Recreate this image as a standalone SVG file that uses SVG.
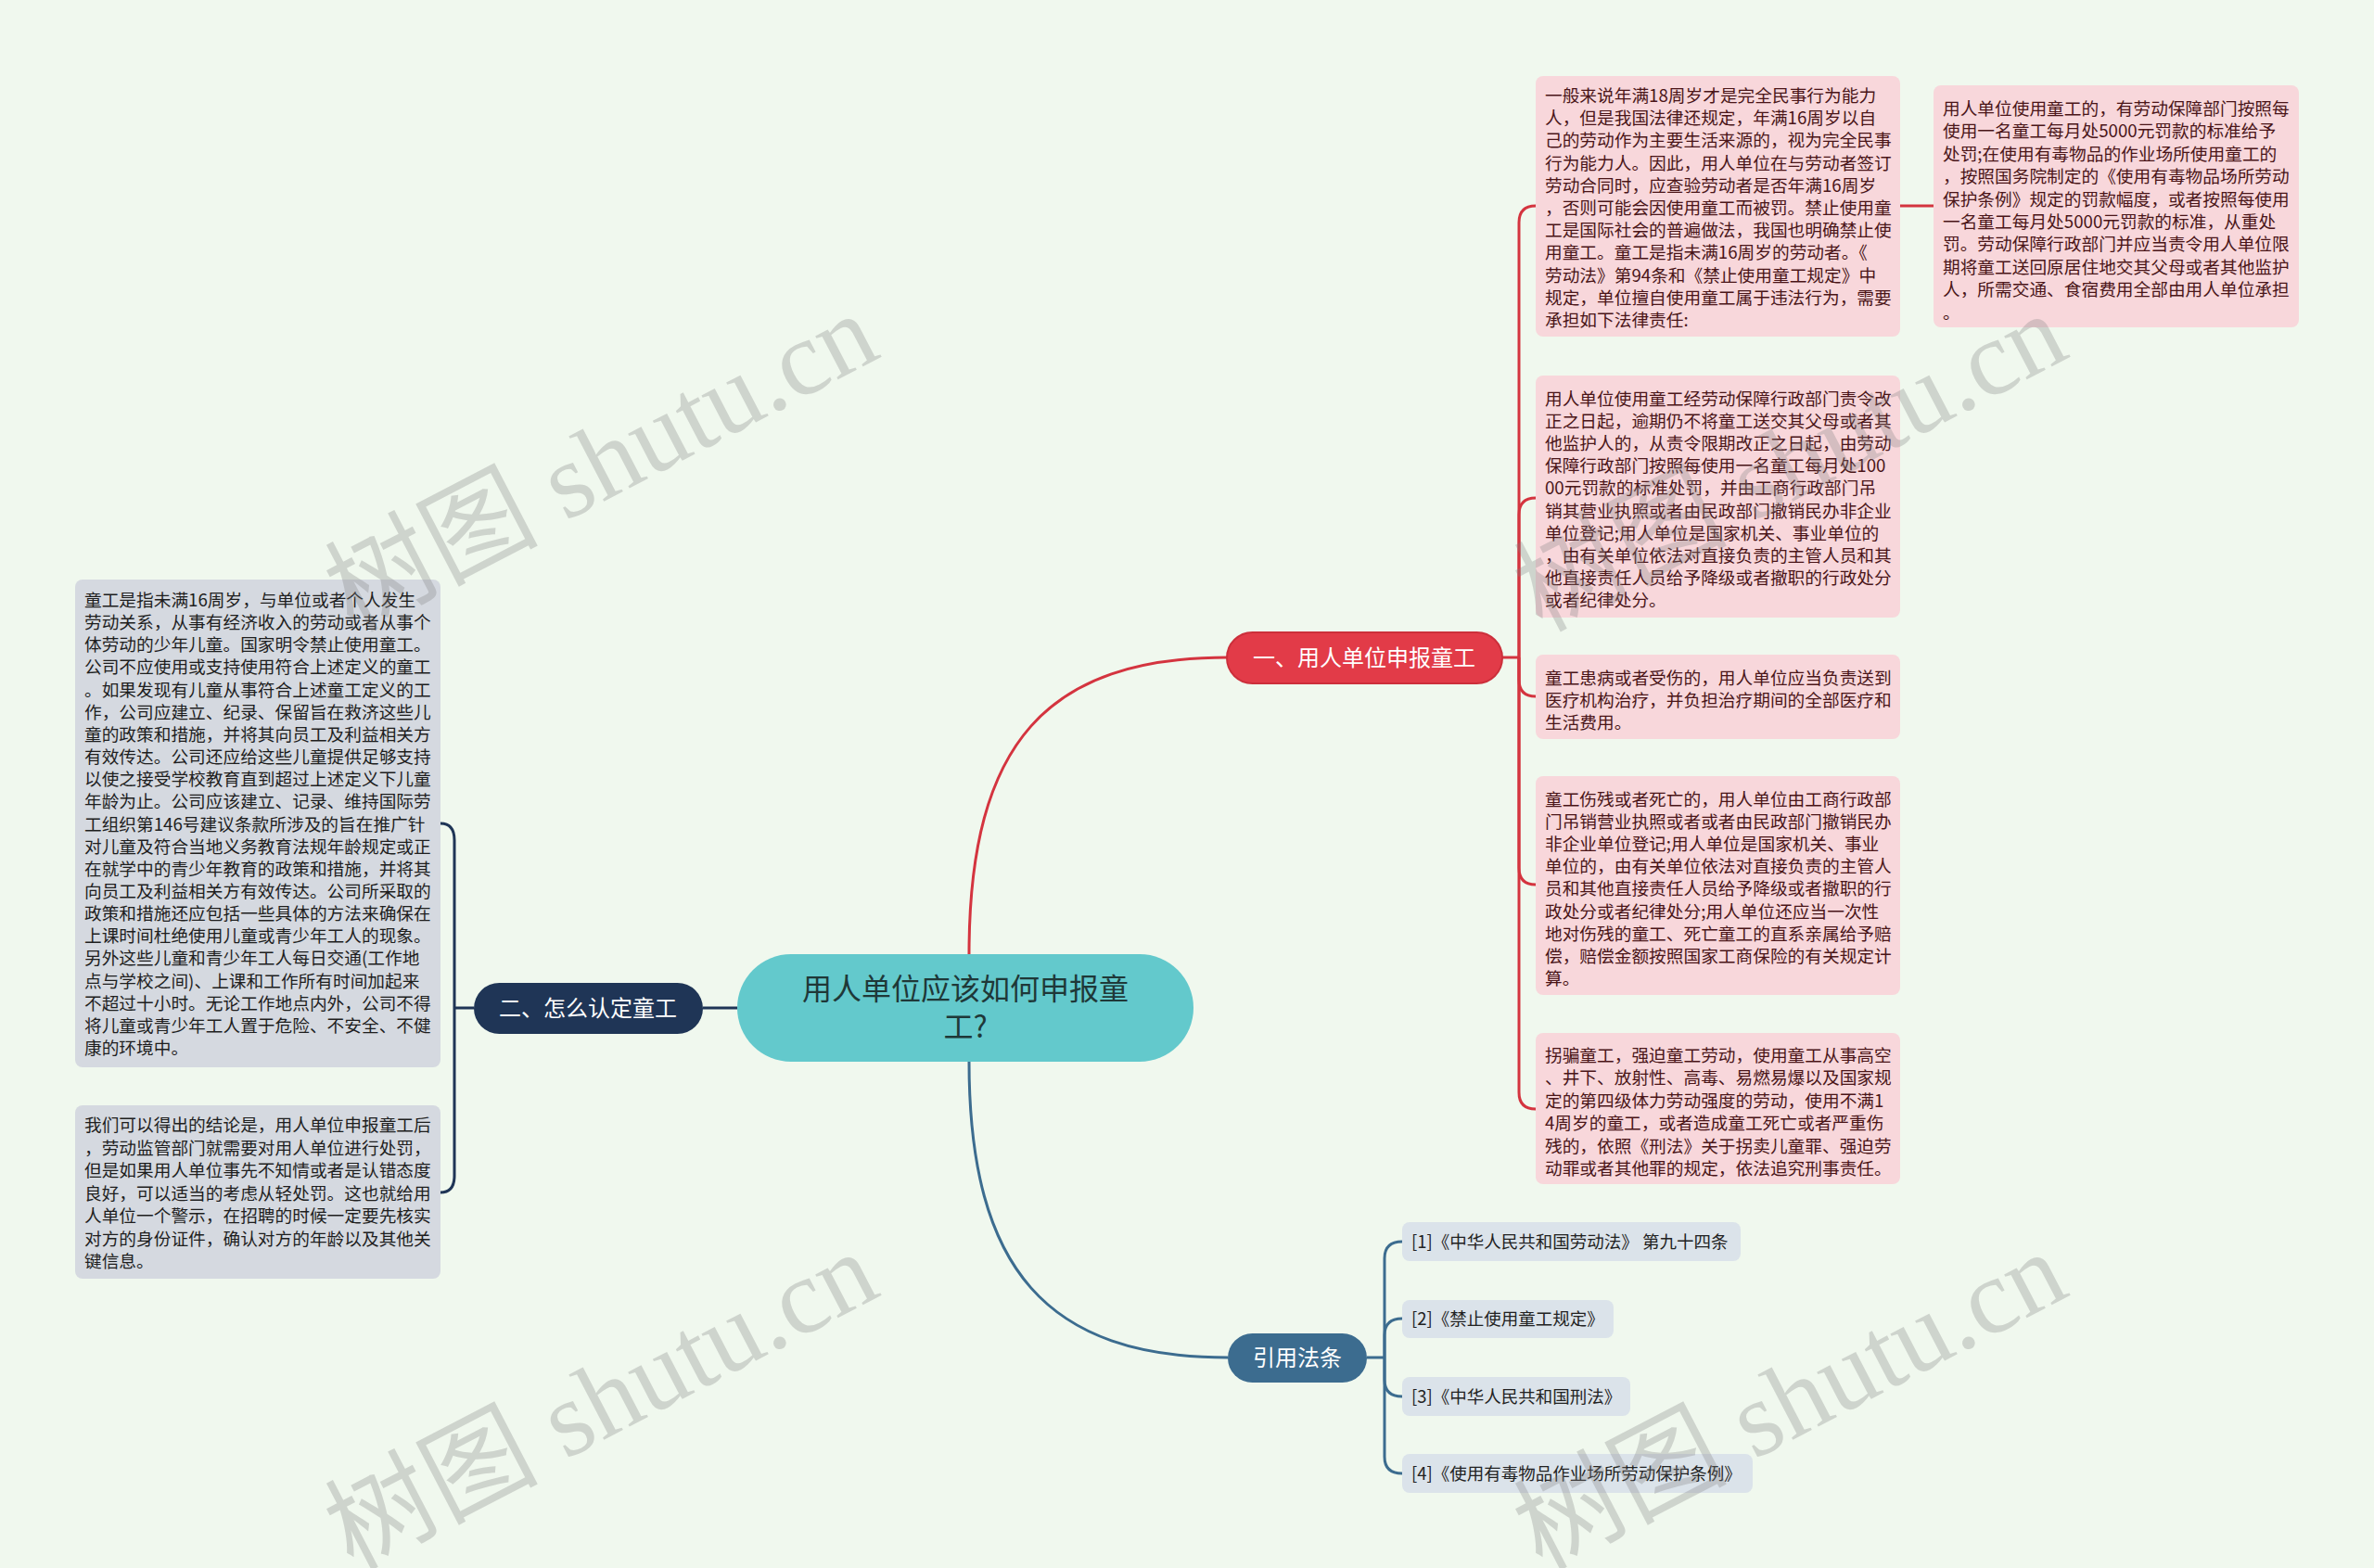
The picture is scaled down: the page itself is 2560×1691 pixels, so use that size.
<svg xmlns="http://www.w3.org/2000/svg" width="2560" height="1691" viewBox="0 0 2560 1691">
<style>
.t{font-family:"Noto Sans CJK SC","Noto Sans",sans-serif;}
.pk{fill:#f8d7db;}
.pt{font-size:18.7px;fill:#4a1518;}
.gy{fill:#d5d9e0;}
.gt{font-size:18.7px;fill:#1e1e1e;}
.rf{fill:#dbe3ea;}
.rt{font-size:18.5px;fill:#222;}
.bt{font-size:24px;fill:#fff;text-anchor:middle;}
.cr{fill:none;stroke:#d4343f;stroke-width:3;}
.cn{fill:none;stroke:#1f3556;stroke-width:3;}
.cb{fill:none;stroke:#3c6c8f;stroke-width:3;}
.wm{font-family:"Liberation Serif","Noto Sans CJK SC",serif;font-size:115px;fill:#808080;fill-opacity:0.3;}
</style>
<rect width="2560" height="1691" fill="#f0f8ee"/>

<g id="connectors">
<path class="cr" d="M1045,1029 C1045,800 1130,709 1324,709"/>
<path class="cb" d="M1045,1145 C1045,1370 1130,1464 1324,1464"/>
<path class="cn" d="M795,1087 H758"/>
<path class="cr" d="M1620,709 H1638"/>
<path class="cr" d="M1638,709 V240 Q1638,222 1656,222"/>
<path class="cr" d="M1638,709 V555 Q1638,537 1656,537"/>
<path class="cr" d="M1638,709 V733 Q1638,751 1656,751"/>
<path class="cr" d="M1638,709 V936 Q1638,954 1656,954"/>
<path class="cr" d="M1638,709 V1178 Q1638,1196 1656,1196"/>
<path class="cr" d="M2049,222 H2085"/>
<path class="cn" d="M511,1087 H490"/>
<path class="cn" d="M490,1087 V906 Q490,888 475,888"/>
<path class="cn" d="M490,1087 V1268 Q490,1286 475,1286"/>
<path class="cb" d="M1474,1464 H1493"/>
<path class="cb" d="M1493,1464 V1357 Q1493,1339 1512,1339"/>
<path class="cb" d="M1493,1464 V1440 Q1493,1422 1512,1422"/>
<path class="cb" d="M1493,1464 V1488 Q1493,1506 1512,1506"/>
<path class="cb" d="M1493,1464 V1571 Q1493,1589 1512,1589"/>
</g>

<g id="center">
<rect x="795" y="1029" width="492" height="116" rx="58" fill="#63c9cc"/>
<text class="t" font-size="32" fill="#1f3838" text-anchor="middle"><tspan x="1041" y="1078">用人单位应该如何申报童</tspan><tspan x="1041" y="1119">工?</tspan></text>
</g>

<g id="branch1">
<rect x="1323" y="682" width="297" height="55" rx="27.5" fill="#e23b48" stroke="#cc2f3b" stroke-width="2"/>
<text class="t bt" x="1471" y="718">一、用人单位申报童工</text>
</g>

<g id="branch2">
<rect x="511" y="1060" width="247" height="55" rx="27.5" fill="#1f3556"/>
<text class="t bt" x="634" y="1096">二、怎么认定童工</text>
</g>

<g id="branch3">
<rect x="1324" y="1438" width="150" height="53" rx="26.5" fill="#3c6c8f"/>
<text class="t bt" x="1399" y="1473">引用法条</text>
</g>

<g id="p1">
<rect class="pk" x="1656" y="82" width="393" height="281" rx="8"/>
<text class="t pt"><tspan x="1666" y="110">一般来说年满18周岁才是完全民事行为能力</tspan><tspan x="1666" y="134">人，但是我国法律还规定，年满16周岁以自</tspan><tspan x="1666" y="158">己的劳动作为主要生活来源的，视为完全民事</tspan><tspan x="1666" y="183">行为能力人。因此，用人单位在与劳动者签订</tspan><tspan x="1666" y="207">劳动合同时，应查验劳动者是否年满16周岁</tspan><tspan x="1666" y="231">，否则可能会因使用童工而被罚。禁止使用童</tspan><tspan x="1666" y="255">工是国际社会的普遍做法，我国也明确禁止使</tspan><tspan x="1666" y="279">用童工。童工是指未满16周岁的劳动者。《</tspan><tspan x="1666" y="304">劳动法》第94条和《禁止使用童工规定》中</tspan><tspan x="1666" y="328">规定，单位擅自使用童工属于违法行为，需要</tspan><tspan x="1666" y="352">承担如下法律责任:</tspan></text>
</g>

<g id="p1a">
<rect class="pk" x="2085" y="92" width="394" height="261" rx="8"/>
<text class="t pt"><tspan x="2095" y="124">用人单位使用童工的，有劳动保障部门按照每</tspan><tspan x="2095" y="148">使用一名童工每月处5000元罚款的标准给予</tspan><tspan x="2095" y="173">处罚;在使用有毒物品的作业场所使用童工的</tspan><tspan x="2095" y="197">，按照国务院制定的《使用有毒物品场所劳动</tspan><tspan x="2095" y="222">保护条例》规定的罚款幅度，或者按照每使用</tspan><tspan x="2095" y="246">一名童工每月处5000元罚款的标准，从重处</tspan><tspan x="2095" y="270">罚。劳动保障行政部门并应当责令用人单位限</tspan><tspan x="2095" y="295">期将童工送回原居住地交其父母或者其他监护</tspan><tspan x="2095" y="319">人，所需交通、食宿费用全部由用人单位承担</tspan><tspan x="2095" y="344">。</tspan></text>
</g>

<g id="p2">
<rect class="pk" x="1656" y="405" width="393" height="261" rx="8"/>
<text class="t pt"><tspan x="1666" y="437">用人单位使用童工经劳动保障行政部门责令改</tspan><tspan x="1666" y="461">正之日起，逾期仍不将童工送交其父母或者其</tspan><tspan x="1666" y="485">他监护人的，从责令限期改正之日起，由劳动</tspan><tspan x="1666" y="509">保障行政部门按照每使用一名童工每月处100</tspan><tspan x="1666" y="533">00元罚款的标准处罚，并由工商行政部门吊</tspan><tspan x="1666" y="558">销其营业执照或者由民政部门撤销民办非企业</tspan><tspan x="1666" y="582">单位登记;用人单位是国家机关、事业单位的</tspan><tspan x="1666" y="606">，由有关单位依法对直接负责的主管人员和其</tspan><tspan x="1666" y="630">他直接责任人员给予降级或者撤职的行政处分</tspan><tspan x="1666" y="654">或者纪律处分。</tspan></text>
</g>

<g id="p3">
<rect class="pk" x="1656" y="706" width="393" height="91" rx="8"/>
<text class="t pt"><tspan x="1666" y="738">童工患病或者受伤的，用人单位应当负责送到</tspan><tspan x="1666" y="762">医疗机构治疗，并负担治疗期间的全部医疗和</tspan><tspan x="1666" y="786">生活费用。</tspan></text>
</g>

<g id="p4">
<rect class="pk" x="1656" y="837" width="393" height="236" rx="8"/>
<text class="t pt"><tspan x="1666" y="869">童工伤残或者死亡的，用人单位由工商行政部</tspan><tspan x="1666" y="893">门吊销营业执照或者或者由民政部门撤销民办</tspan><tspan x="1666" y="917">非企业单位登记;用人单位是国家机关、事业</tspan><tspan x="1666" y="941">单位的，由有关单位依法对直接负责的主管人</tspan><tspan x="1666" y="965">员和其他直接责任人员给予降级或者撤职的行</tspan><tspan x="1666" y="990">政处分或者纪律处分;用人单位还应当一次性</tspan><tspan x="1666" y="1014">地对伤残的童工、死亡童工的直系亲属给予赔</tspan><tspan x="1666" y="1038">偿，赔偿金额按照国家工商保险的有关规定计</tspan><tspan x="1666" y="1062">算。</tspan></text>
</g>

<g id="p5">
<rect class="pk" x="1656" y="1114" width="393" height="163" rx="8"/>
<text class="t pt"><tspan x="1666" y="1145">拐骗童工，强迫童工劳动，使用童工从事高空</tspan><tspan x="1666" y="1169">、井下、放射性、高毒、易燃易爆以及国家规</tspan><tspan x="1666" y="1194">定的第四级体力劳动强度的劳动，使用不满1</tspan><tspan x="1666" y="1218">4周岁的童工，或者造成童工死亡或者严重伤</tspan><tspan x="1666" y="1243">残的，依照《刑法》关于拐卖儿童罪、强迫劳</tspan><tspan x="1666" y="1267">动罪或者其他罪的规定，依法追究刑事责任。</tspan></text>
</g>

<g id="g1">
<rect class="gy" x="81" y="625" width="394" height="526" rx="8"/>
<text class="t gt"><tspan x="91" y="654">童工是指未满16周岁，与单位或者个人发生</tspan><tspan x="91" y="678">劳动关系，从事有经济收入的劳动或者从事个</tspan><tspan x="91" y="702">体劳动的少年儿童。国家明令禁止使用童工。</tspan><tspan x="91" y="726">公司不应使用或支持使用符合上述定义的童工</tspan><tspan x="91" y="751">。如果发现有儿童从事符合上述童工定义的工</tspan><tspan x="91" y="775">作，公司应建立、纪录、保留旨在救济这些儿</tspan><tspan x="91" y="799">童的政策和措施，并将其向员工及利益相关方</tspan><tspan x="91" y="823">有效传达。公司还应给这些儿童提供足够支持</tspan><tspan x="91" y="847">以使之接受学校教育直到超过上述定义下儿童</tspan><tspan x="91" y="871">年龄为止。公司应该建立、记录、维持国际劳</tspan><tspan x="91" y="896">工组织第146号建议条款所涉及的旨在推广针</tspan><tspan x="91" y="920">对儿童及符合当地义务教育法规年龄规定或正</tspan><tspan x="91" y="944">在就学中的青少年教育的政策和措施，并将其</tspan><tspan x="91" y="968">向员工及利益相关方有效传达。公司所采取的</tspan><tspan x="91" y="992">政策和措施还应包括一些具体的方法来确保在</tspan><tspan x="91" y="1016">上课时间杜绝使用儿童或青少年工人的现象。</tspan><tspan x="91" y="1040">另外这些儿童和青少年工人每日交通(工作地</tspan><tspan x="91" y="1065">点与学校之间)、上课和工作所有时间加起来</tspan><tspan x="91" y="1089">不超过十小时。无论工作地点内外，公司不得</tspan><tspan x="91" y="1113">将儿童或青少年工人置于危险、不安全、不健</tspan><tspan x="91" y="1137">康的环境中。</tspan></text>
</g>

<g id="g2">
<rect class="gy" x="81" y="1192" width="394" height="187" rx="8"/>
<text class="t gt"><tspan x="91" y="1220">我们可以得出的结论是，用人单位申报童工后</tspan><tspan x="91" y="1245">，劳动监管部门就需要对用人单位进行处罚，</tspan><tspan x="91" y="1269">但是如果用人单位事先不知情或者是认错态度</tspan><tspan x="91" y="1294">良好，可以适当的考虑从轻处罚。这也就给用</tspan><tspan x="91" y="1318">人单位一个警示，在招聘的时候一定要先核实</tspan><tspan x="91" y="1343">对方的身份证件，确认对方的年龄以及其他关</tspan><tspan x="91" y="1367">键信息。</tspan></text>
</g>

<g id="r1">
<rect class="rf" x="1512" y="1318" width="365" height="42" rx="8"/>
<text class="t rt" x="1522" y="1346">[1]《中华人民共和国劳动法》 第九十四条</text>
</g>
<g id="r2">
<rect class="rf" x="1512" y="1402" width="228" height="41" rx="8"/>
<text class="t rt" x="1522" y="1429">[2]《禁止使用童工规定》</text>
</g>
<g id="r3">
<rect class="rf" x="1512" y="1485" width="246" height="42" rx="8"/>
<text class="t rt" x="1522" y="1513">[3]《中华人民共和国刑法》</text>
</g>
<g id="r4">
<rect class="rf" x="1512" y="1568" width="378" height="42" rx="8"/>
<text class="t rt" x="1522" y="1596">[4]《使用有毒物品作业场所劳动保护条例》</text>
</g>

<g id="watermarks">
<text class="wm" transform="translate(380,682) rotate(-27.5)">树图 shutu.cn</text>
<text class="wm" transform="translate(1662,682) rotate(-27.5)">树图 shutu.cn</text>
<text class="wm" transform="translate(380,1694) rotate(-27.5)">树图 shutu.cn</text>
<text class="wm" transform="translate(1662,1694) rotate(-27.5)">树图 shutu.cn</text>
</g>
</svg>
